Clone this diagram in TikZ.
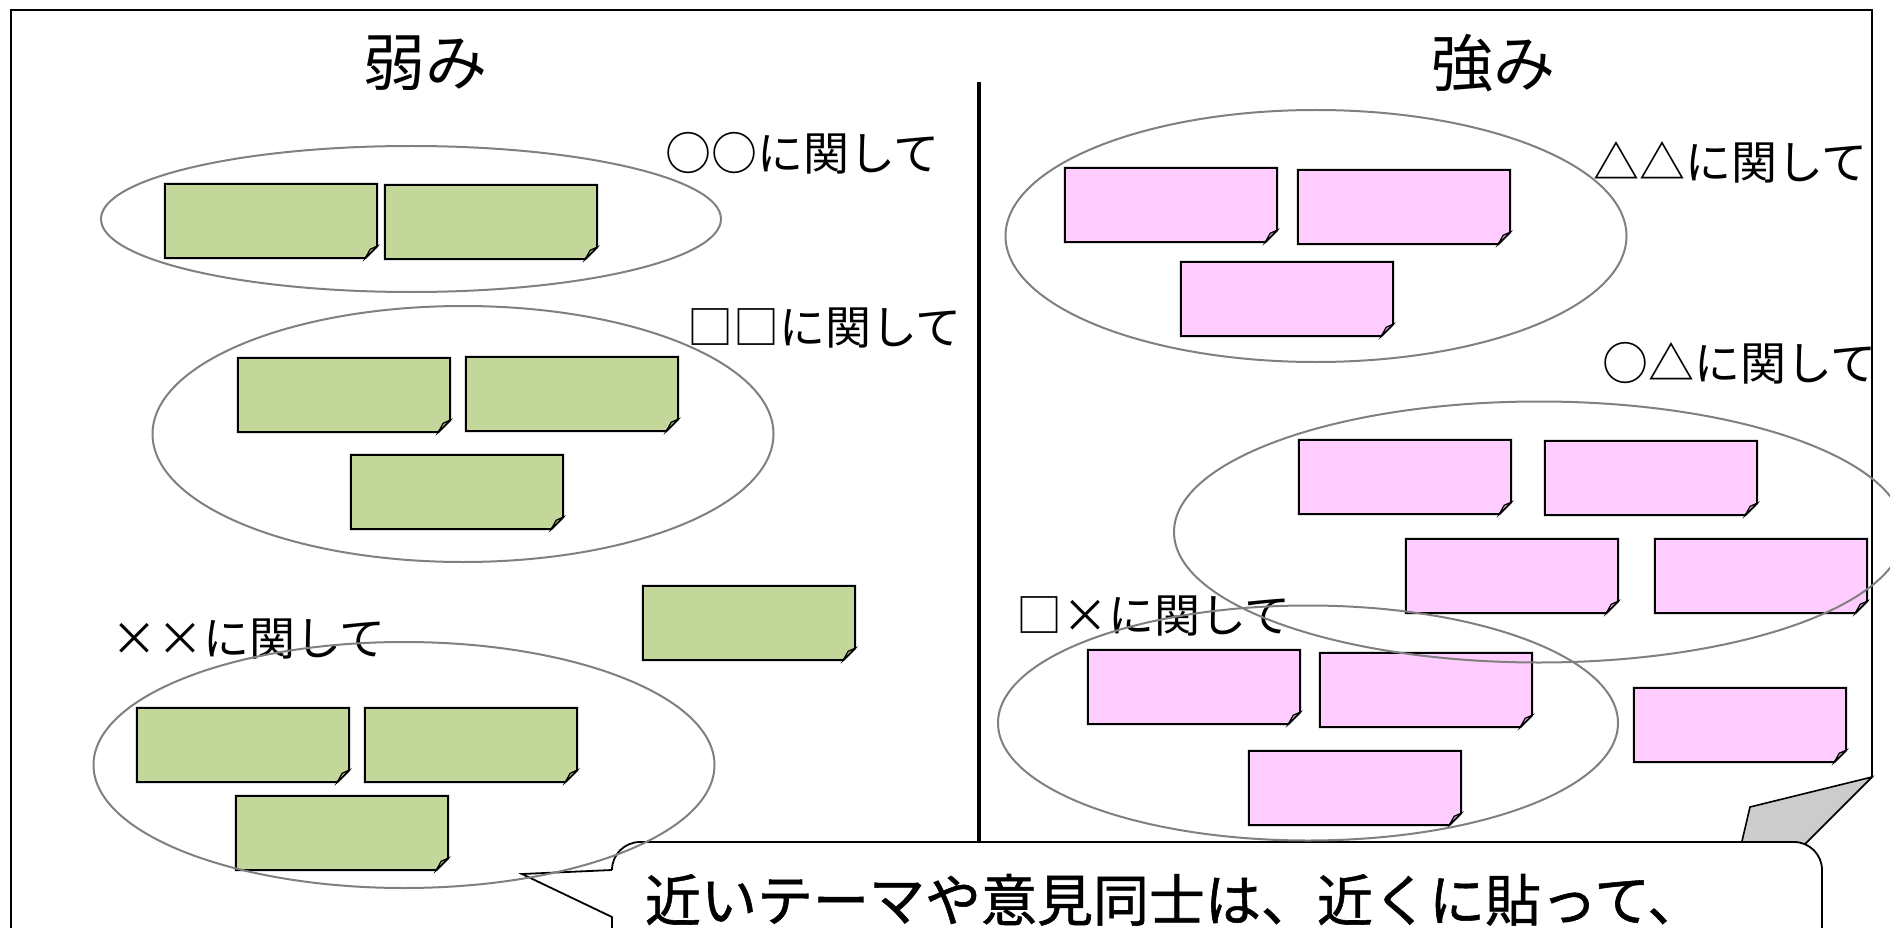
\documentclass[tikz,border=0pt]{standalone}
\usepackage{fontspec}
\newfontfamily\jpfont{Noto Sans CJK JP}
\newfontfamily\jpheavy[FakeBold=1]{Noto Sans CJK JP}
\usetikzlibrary{shapes.geometric}

\definecolor{notegreen}{RGB}{196,215,155}
\definecolor{notepink}{RGB}{255,204,255}
\definecolor{flapgray}{RGB}{204,204,204}
\definecolor{ringgray}{RGB}{128,128,128}

\begin{document}
\begin{tikzpicture}[x=1pt, y=-1pt,
        title/.style={font=\jpfont\fontsize{62}{70}\selectfont},
        topic/.style={anchor=west, inner sep=0pt, font=\jpfont\fontsize{46}{52}\selectfont},
        sticky/.style={minimum width=212pt, minimum height=74pt, inner sep=0pt,
            append after command={\pgfextra{\let\stk\tikzlastnode
                \filldraw[fill=#1, line width=2pt]
                    (\stk.north west) -- (\stk.north east) -- ([yshift=12pt]\stk.south east)
                    -- ([xshift=-12pt]\stk.south east) -- (\stk.south west) -- cycle;
                \filldraw[fill=#1!80!black, line width=1.2pt]
                    ([yshift=12pt]\stk.south east) -- ([shift={(-7pt,9pt)}]\stk.south east)
                    -- ([xshift=-12pt]\stk.south east) -- cycle;}}},
        group/.style={ellipse, draw=ringgray, line width=2pt, inner sep=0pt},
        bubble/.style={draw, line width=1.8pt, fill=white, rounded corners=28pt, outer sep=0pt,
            anchor=north west, text width=1144pt, align=left, inner xsep=33pt, inner ysep=32pt,
            font=\jpheavy\fontsize{56}{64}\selectfont}]
    \useasboundingbox (0,0) rectangle (1890,928);
    \clip (0,0) rectangle (1890,928);

    % sheet with its folded corner
    \draw[line width=1.6pt, fill=white] (11,10) -- (1872,10) -- (1872,777) -- (1700,949) -- (11,949) -- cycle;
    \filldraw[fill=flapgray, line width=1.6pt] (1872,777) -- (1750,807) -- (1727,905) -- (1777,872) -- cycle;
    \draw[line width=4.5pt] (979,82) -- (979,842);

    \node[title] (weak) at (425,63) {弱み};
    \node[title] (strong) at (1493,63) {強み};

    \node[topic] (oolabel) at (665,153) {○○に関して};
    \node[topic] (sslabel) at (687,328) {□□に関して};
    \node[topic] (xxlabel) at (111,639) {××に関して};
    \node[topic] (ttlabel) at (1593,162) {△△に関して};
    \node[topic] (ctlabel) at (1602,363) {○△に関して};
    \node[topic] (sxlabel) at (1016,616) {□×に関して};

    % weak side
    \node[sticky=notegreen] (g1) at (271,221) {};
    \node[sticky=notegreen] (g2) at (491,222) {};
    \node[sticky=notegreen] (g3) at (344,395) {};
    \node[sticky=notegreen] (g4) at (572,394) {};
    \node[sticky=notegreen] (g5) at (457,492) {};
    \node[sticky=notegreen] (g6) at (749,623) {};
    \node[sticky=notegreen] (g7) at (243,745) {};
    \node[sticky=notegreen] (g8) at (471,745) {};
    \node[sticky=notegreen] (g9) at (342,833) {};

    % strong side
    \node[sticky=notepink] (p1) at (1171,205) {};
    \node[sticky=notepink] (p2) at (1404,207) {};
    \node[sticky=notepink] (p3) at (1287,299) {};
    \node[sticky=notepink] (p4) at (1405,477) {};
    \node[sticky=notepink] (p5) at (1651,478) {};
    \node[sticky=notepink] (p6) at (1512,576) {};
    \node[sticky=notepink] (p7) at (1761,576) {};
    \node[sticky=notepink] (p8) at (1194,687) {};
    \node[sticky=notepink] (p9) at (1426,690) {};
    \node[sticky=notepink] (p10) at (1355,788) {};
    \node[sticky=notepink] (p11) at (1740,725) {};

    \node[bubble] (msg) at (612,842) {近いテーマや意見同士は、近くに貼って、};
    \coordinate (tip) at (522,874);
    \fill[white] ([shift={(2pt,-28pt)}]msg.north west) -- (tip) -- ([shift={(2pt,-75pt)}]msg.north west) -- cycle;
    \draw[line width=1.8pt] ([yshift=-28pt]msg.north west) -- (tip) -- ([yshift=-75pt]msg.north west);

    \node[group, minimum width=620pt, minimum height=146pt] (oo) at (411,219) {};
    \node[group, minimum width=621pt, minimum height=256pt] (ss) at (463,434) {};
    \node[group, minimum width=621pt, minimum height=246pt] (xx) at (404,765) {};
    \node[group, minimum width=621pt, minimum height=252pt] (tt) at (1316,236) {};
    \node[group, minimum width=730pt, minimum height=261pt] (ct) at (1539,532) {};
    \node[group, minimum width=620pt, minimum height=235pt] (sx) at (1308,723) {};
\end{tikzpicture}
\end{document}
